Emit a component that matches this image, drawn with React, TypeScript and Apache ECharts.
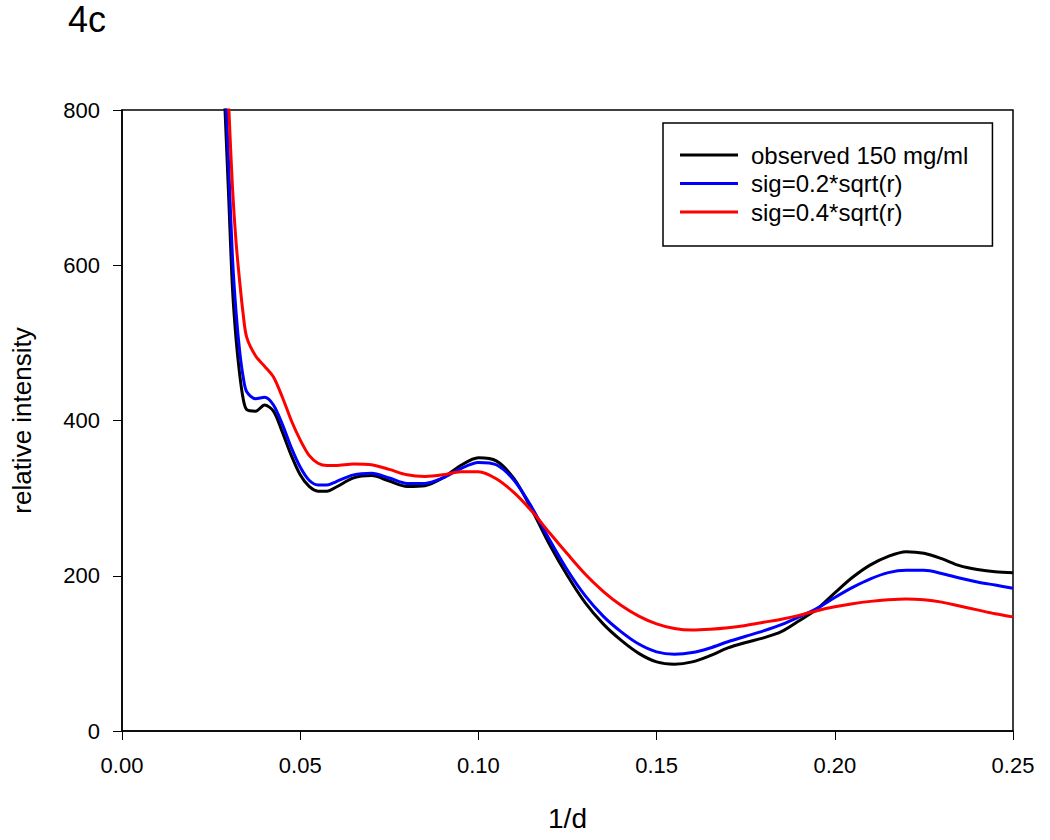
import React, { useEffect, useRef } from "react";
import * as echarts from "echarts";

const xValues = [
  0.028, 0.029, 0.03, 0.031, 0.032, 0.033, 0.034, 0.035, 0.0375, 0.04, 0.0425, 0.045, 0.0475,
  0.05, 0.0525, 0.055, 0.0575, 0.06, 0.065, 0.07, 0.075, 0.08, 0.085, 0.09, 0.095, 0.1, 0.105,
  0.11, 0.115, 0.12, 0.125, 0.13, 0.135, 0.14, 0.145, 0.15, 0.155, 0.16, 0.165, 0.17, 0.175,
  0.18, 0.185, 0.19, 0.195, 0.2, 0.205, 0.21, 0.215, 0.22, 0.225, 0.23, 0.235, 0.24, 0.245, 0.25,
];

const observed = [
  900, 790, 680, 570, 505, 460, 428, 414, 412, 420, 412, 385, 355,
  330, 315, 309, 309, 314, 326, 329, 322, 315, 316, 326, 342, 352, 348,
  325, 285, 240, 200, 165, 138, 117, 100, 89, 86, 89, 97, 107, 114,
  120, 128, 142, 157, 178, 198, 214, 225, 231, 229, 222, 213, 208, 205, 204,
];

const sig02 = [
  940, 830, 720, 610, 540, 490, 456, 437, 428, 430, 420, 395, 365,
  340, 323, 317, 317, 321, 330, 332, 326, 319, 319, 326, 338, 346, 343,
  323, 288, 246, 207, 174, 148, 128, 112, 102, 99, 101, 107, 115, 122,
  129, 137, 147, 158, 172, 185, 196, 204, 207, 207, 203, 197, 192, 188, 184,
];

const sig04 = [
  1010, 900, 800, 700, 630, 580, 537, 507, 483, 470, 456, 430, 400,
  375, 355, 345, 342, 342, 344, 343, 337, 330, 328, 330, 334, 334, 325,
  307, 283, 255, 228, 202, 180, 162, 148, 138, 132, 130, 131, 133, 136,
  140, 144, 149, 155, 160, 164, 167, 169, 170, 169, 166, 161, 156, 151, 147,
];

const seriesNames = ["observed 150 mg/ml", "sig=0.2*sqrt(r)", "sig=0.4*sqrt(r)"];
const seriesColors = ["#000000", "#0000ff", "#ff0000"];

const pair = (ys: number[]) => xValues.map((x, i) => [x, ys[i]]);

export default function App() {
  const ref = useRef<HTMLDivElement>(null);
  useEffect(() => {
    if (!ref.current) return;
    const chart = echarts.init(ref.current, null, { renderer: "svg" });
    const font = "'Liberation Sans', Arial, sans-serif";
    const allData = [observed, sig02, sig04];
    chart.setOption({
      animation: false,
      backgroundColor: "#ffffff",
      title: {
        text: "4c",
        left: 68,
        top: 1,
        padding: 0,
        textStyle: {
          fontFamily: font,
          fontSize: 36,
          fontWeight: "normal",
          color: "#000",
        },
      },
      grid: {
        left: 122,
        top: 110,
        right: 37,
        bottom: 109,
        outerBoundsMode: "none",
        containLabel: false,
        show: true,
        borderColor: "#000",
        borderWidth: 1.5,
        backgroundColor: "transparent",
      },
      legend: {
        orient: "vertical",
        left: 663,
        top: 123,
        data: seriesNames,
        icon: "rect",
        itemWidth: 58,
        itemHeight: 3,
        itemGap: 4.5,
        padding: [20, 24, 22, 17],
        borderColor: "#000",
        borderWidth: 1.5,
        textStyle: {
          fontFamily: font,
          fontSize: 24,
          color: "#000",
          lineHeight: 24,
          padding: [0, 0, 0, 8],
        },
      },
      xAxis: {
        type: "value",
        min: 0,
        max: 0.25,
        interval: 0.05,
        name: "1/d",
        nameLocation: "middle",
        nameGap: 73,
        nameTextStyle: { fontFamily: font, fontSize: 28, color: "#000" },
        axisLine: { show: true, onZero: false, lineStyle: { color: "#000", width: 1.5 } },
        axisTick: { show: true, inside: false, length: 9, lineStyle: { color: "#000", width: 1 } },
        axisLabel: {
          margin: 23,
          fontFamily: font,
          fontSize: 22,
          color: "#000",
          formatter: (v: number) => v.toFixed(2),
        },
        splitLine: { show: false },
      },
      yAxis: {
        type: "value",
        min: 0,
        max: 800,
        interval: 200,
        name: "relative intensity",
        nameLocation: "middle",
        nameGap: 87,
        nameTextStyle: { fontFamily: font, fontSize: 26, color: "#000" },
        axisLine: { show: true, lineStyle: { color: "#000", width: 1.5 } },
        axisTick: { show: true, inside: false, length: 9, lineStyle: { color: "#000", width: 1 } },
        axisLabel: { margin: 22, fontFamily: font, fontSize: 22, color: "#000" },
        splitLine: { show: false },
      },
      series: seriesNames.map((name, i) => ({
        name,
        type: "line",
        data: pair(allData[i]),
        smooth: 0.3,
        symbol: "none",
        clip: true,
        lineStyle: { color: seriesColors[i], width: 3 },
        itemStyle: { color: seriesColors[i] },
      })),
    });
    return () => chart.dispose();
  }, []);
  return (
    <div
      ref={ref}
      style={{ position: "absolute", left: 0, top: 0, width: 1050, height: 840 }}
    />
  );
}
